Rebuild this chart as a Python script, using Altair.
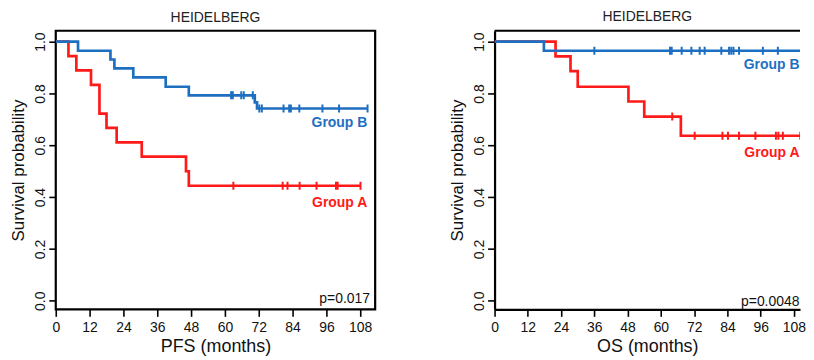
import altair as alt
import pandas as pd

# ---------------- data ----------------
# PFS panel
pfs_a_t = [0, 4.5, 7.3, 12.5, 15.5, 18.0, 21.6, 30.5, 46.2, 47.2, 108.1]
pfs_a_s = [1.0, 0.944, 0.889, 0.833, 0.722, 0.667, 0.611, 0.556, 0.500, 0.444, 0.444]
pfs_a_cens = [63.0, 80.5, 82.2, 86.5, 92.5, 99.4, 100.0, 108.1]

pfs_b_t = [0, 7.9, 19.4, 20.8, 27.5, 39.0, 47.2, 70.6, 71.4, 110.6]
pfs_b_s = [1.0, 0.965, 0.931, 0.897, 0.862, 0.826, 0.793, 0.766, 0.742, 0.742]
pfs_b_cens = [62.2, 62.8, 65.8, 66.7, 69.9, 72.2, 73.1, 80.8, 82.8, 83.4, 86.4, 94.6, 100.5, 110.6]

# OS panel
os_a_t = [0, 22.0, 27.4, 30.0, 48.3, 54.0, 67.2, 110.3]
os_a_s = [1.0, 0.943, 0.886, 0.826, 0.769, 0.711, 0.637, 0.637]
os_a_cens = [64.1, 72.2, 82.2, 84.2, 88.2, 94.1, 101.5, 102.4, 104.0, 110.3]

os_b_t = [0, 17.8, 112.3]
os_b_s = [1.0, 0.965, 0.965]
os_b_cens = [36.0, 63.3, 63.9, 67.5, 71.0, 74.0, 75.8, 81.8, 84.6, 85.4, 86.2, 88.2,
              96.8, 102.2, 112.3]

x_ticks = [0, 12, 24, 36, 48, 60, 72, 84, 96, 108]
y_ticks = [0.0, 0.2, 0.4, 0.6, 0.8, 1.0]

RED = "#ff1a1a"
BLUE = "#1f6fc1"
FONT = "Liberation Sans"
Y_DOM = [-0.033, 1.042]


def surv_at(t_list, s_list, t):
    val = s_list[0]
    for tt, ss in zip(t_list, s_list):
        if tt <= t:
            val = ss
    return val


def curve_df(t_list, s_list):
    return pd.DataFrame({"t": t_list, "s": s_list})


def cens_df(cens, t_list, s_list):
    return pd.DataFrame({"t": cens, "s": [surv_at(t_list, s_list, c) for c in cens]})


def panel(xtitle, a, b, labA, labB, ptxt, px, py, width, xmax, boxed):
    xs = alt.Scale(domain=[0, xmax], nice=False, zero=False)
    ys = alt.Scale(domain=Y_DOM, nice=False, zero=False)
    xax = alt.Axis(values=x_ticks, title=xtitle, format="d", labelOverlap=False,
                   domain=not boxed, domainColor="black", domainWidth=2.2)
    yax = alt.Axis(values=y_ticks, title="Survival probability", format=".1f",
                   labelOverlap=False,
                   labelAngle=-90, labelAlign="center", labelBaseline="alphabetic",
                   domain=not boxed, domainColor="black", domainWidth=2.2)
    X = alt.X("t:Q", scale=xs, axis=xax)
    Y = alt.Y("s:Q", scale=ys, axis=yax)

    def dx(v):
        return alt.datum(v, scale=xs, axis=xax)

    def dy(v):
        return alt.datum(v, scale=ys, axis=yax)

    layers = []
    for (t_list, s_list, cens), col in ((a, RED), (b, BLUE)):
        layers.append(alt.Chart(curve_df(t_list, s_list)).mark_line(
            interpolate="step-after", strokeWidth=2.7, color=col, clip=True).encode(x=X, y=Y))
        layers.append(alt.Chart(cens_df(cens, t_list, s_list)).mark_tick(
            orient="vertical", size=8, thickness=2, color=col, opacity=1,
            clip=True).encode(x=X, y=Y))
    for (txt, tx, ty), col in ((labA, RED), (labB, BLUE)):
        layers.append(alt.Chart().mark_text(
            text=txt, align="right", baseline="alphabetic", fontSize=14,
            fontWeight="bold", font=FONT, color=col).encode(x=dx(tx), y=dy(ty)))
    layers.append(alt.Chart().mark_text(
        text=ptxt, align="right", baseline="alphabetic", fontSize=14,
        font=FONT, color="#111").encode(x=dx(px), y=dy(py)))
    if not boxed:
        # top border of the frame (the right border lies outside the picture)
        layers.append(alt.Chart().mark_rule(color="black", strokeWidth=2.2).encode(
            y=dy(Y_DOM[1]), x=alt.value(0), x2=alt.value(width)))
    view = (alt.ViewBackground(stroke="black", strokeWidth=2.2) if boxed
            else alt.ViewBackground(strokeWidth=0))
    return alt.layer(*layers).properties(
        width=width, height=280, view=view,
        title=alt.TitleParams("HEIDELBERG", fontSize=14, fontWeight="normal",
                              font=FONT, color="#222", offset=6, anchor="middle"))


left = panel("PFS (months)",
             (pfs_a_t, pfs_a_s, pfs_a_cens), (pfs_b_t, pfs_b_s, pfs_b_cens),
             ("Group A", 110.5, 0.362), ("Group B", 110.5, 0.669),
             "p=0.017", 111.5, -0.01, 321, 113.3, True)
right = panel("OS (months)",
              (os_a_t, os_a_s, os_a_cens), (os_b_t, os_b_s, os_b_cens),
              ("Group A", 110.0, 0.554), ("Group B", 110.0, 0.896),
              "p=0.0048", 110.0, -0.02, 307, 110.2, False)

chart = alt.hconcat(left, right, spacing=72).properties(
    padding={"left": 0, "top": 0, "right": 0, "bottom": 0}
).configure_axis(
    grid=False,
    tickColor="black", tickWidth=1.6, tickSize=7,
    labelFont=FONT, labelFontSize=14, labelColor="#111", labelPadding=4,
    titleFont=FONT, titleFontWeight="normal", titleColor="#111",
)
chart = chart.configure_axisX(titleFontSize=18, titlePadding=3, labelFlush=False)
chart = chart.configure_axisY(titleFontSize=17, titlePadding=6)

chart.save("out.html", embed_options={"renderer": "svg", "actions": False})
